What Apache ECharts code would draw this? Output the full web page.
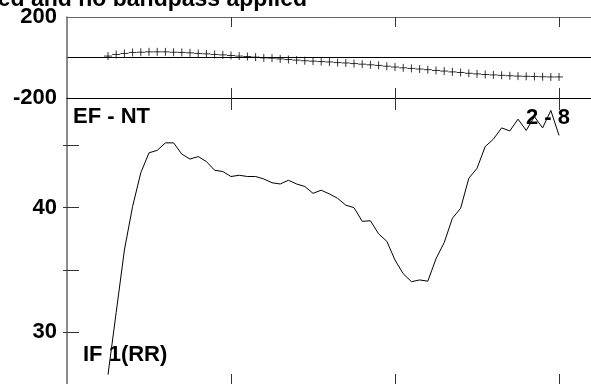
<!DOCTYPE html>
<html>
<head>
<meta charset="utf-8">
<script src="https://cdn.jsdelivr.net/npm/echarts@6/dist/echarts.min.js"></script>
<style>
html,body{margin:0;padding:0;background:#fff;}
#chart{width:591px;height:384px;}
</style>
</head>
<body>
<div id="chart"></div>
<script>
// channel numbers (x)
var channels = [5,6,7,8,9,10,11,12,13,14,15,16,17,18,19,20,21,22,23,24,25,26,27,28,29,30,31,32,33,34,35,36,37,38,39,40,41,42,43,44,45,46,47,48,49,50,51,52,53,54,55,56,57,58,59,60];
// top panel values (+ markers)
var topValues = [7,15,20,25,26,28,28,28,26,25,23,20,18,15,13,10,7,5,2,-2,-3,-7,-10,-13,-16,-18,-20,-22,-25,-27,-30,-33,-36,-39,-43,-47,-51,-54,-57,-60,-64,-67,-71,-74,-78,-81,-84,-86,-88,-90,-92,-93,-94,-95,-96,-96];
// bottom panel values (line)
var lineValues = [26.6,31.6,36.6,40.1,42.8,44.4,44.6,45.2,45.2,44.3,43.9,44.1,43.7,43.0,42.9,42.5,42.6,42.5,42.5,42.3,42.0,41.9,42.2,41.9,41.7,41.15,41.4,41.1,40.75,40.2,40.0,38.9,38.95,37.9,37.3,35.8,34.7,34.06,34.2,34.1,35.9,37.2,39.15,39.95,42.36,43.16,44.9,45.5,46.4,46.16,47.1,46.2,47.3,46.4,47.8,45.8];
var xTicks = [20,40,60];
var topYLabels = [200,-200];
var bottomYTicks = [30,35,40,45];
var bottomYLabels = [30,40];
var titleText = 'ed and no bandpass applied';
var panelLabels = ['EF - NT','2 - 8','IF 1(RR)'];

var FONT = 'Liberation Sans, Arial, sans-serif';
var chart = echarts.init(document.getElementById('chart'), null, {renderer:'canvas'});

function pairs(xs, ys){ return xs.map(function(x,i){ return [x, ys[i]]; }); }

var axisGray = '#666';
var XMAX = 63.9;
function xAx(grid, pos, len, lineColor, showLine){
  return {
    type:'value', gridIndex:grid, position:pos, min:0, max:XMAX,
    axisLine:{show:showLine, onZero:false, lineStyle:{color:lineColor, width:1}},
    axisTick:{show:true, inside:true, length:len, customValues:xTicks, lineStyle:{color:'#333', width:1}},
    axisLabel:{show:false}, splitLine:{show:false}
  };
}

var option = {
  animation:false,
  backgroundColor:'#fff',
  grid:[
    {left:67, top:17, right:0, height:81},
    {left:67, top:98, right:0, bottom:0}
  ],
  xAxis:[
    xAx(0,'top',10,axisGray,true),
    xAx(0,'bottom',10,'#000',true),
    xAx(1,'top',12,'#000',false),
    xAx(1,'bottom',10,'#000',false)
  ],
  yAxis:[
    {type:'value', gridIndex:0, position:'left', min:-200, max:200, interval:200,
     axisLine:{show:true, lineStyle:{color:axisGray, width:1.5}},
     axisTick:{show:false},
     axisLabel:{show:true, customValues:topYLabels, margin:10, padding:[5,0,0,0], color:'#000', fontFamily:FONT, fontWeight:'bold', fontSize:22},
     splitLine:{show:true, showMinLine:false, showMaxLine:false, lineStyle:{color:'#000', width:1}}},
    {type:'value', gridIndex:0, position:'right', min:-200, max:200,
     axisLine:{show:false}, axisTick:{show:false}, axisLabel:{show:false}, splitLine:{show:false}},
    {type:'value', gridIndex:1, position:'left', min:25.85, max:48.8,
     axisLine:{show:true, lineStyle:{color:axisGray, width:1.5}},
     axisTick:{show:true, inside:true, length:12, customValues:bottomYTicks, lineStyle:{color:'#333', width:1}},
     axisLabel:{show:true, customValues:bottomYLabels, margin:10, padding:[2,0,0,0], color:'#000', fontFamily:FONT, fontWeight:'bold', fontSize:22},
     splitLine:{show:false}},
    {type:'value', gridIndex:1, position:'right', min:25.85, max:48.8,
     axisLine:{show:false},
     axisTick:{show:true, inside:true, length:4, customValues:bottomYTicks, lineStyle:{color:'#333', width:1}},
     axisLabel:{show:false}, splitLine:{show:false}}
  ],
  series:[
    {type:'scatter', xAxisIndex:1, yAxisIndex:0, data:pairs(channels, topValues),
     symbol:'path://M0,5L10,5M5,0L5,10', symbolSize:8,
     itemStyle:{color:'rgba(0,0,0,0)', borderColor:'#000', borderWidth:1}, silent:true},
    {type:'line', xAxisIndex:3, yAxisIndex:2, data:pairs(channels, lineValues),
     showSymbol:false, symbol:'none', lineStyle:{color:'#000', width:1}, silent:true, z:5}
  ],
  graphic:[
    {type:'text', z:10, style:{text:titleText, x:307, y:-0.7, align:'right', verticalAlign:'middle', font:'bold 23px '+FONT, fill:'#000'}},
    {type:'text', z:1, style:{text:panelLabels[0], x:73, y:117, align:'left', verticalAlign:'middle', font:'bold 22px '+FONT, fill:'#000'}},
    {type:'text', z:1, style:{text:panelLabels[1], x:526, y:117.5, align:'left', verticalAlign:'middle', font:'bold 22px '+FONT, fill:'#000'}},
    {type:'text', z:1, style:{text:panelLabels[2], x:83, y:355, align:'left', verticalAlign:'middle', font:'bold 22px '+FONT, fill:'#000'}}
  ]
};
chart.setOption(option);
</script>
</body>
</html>
